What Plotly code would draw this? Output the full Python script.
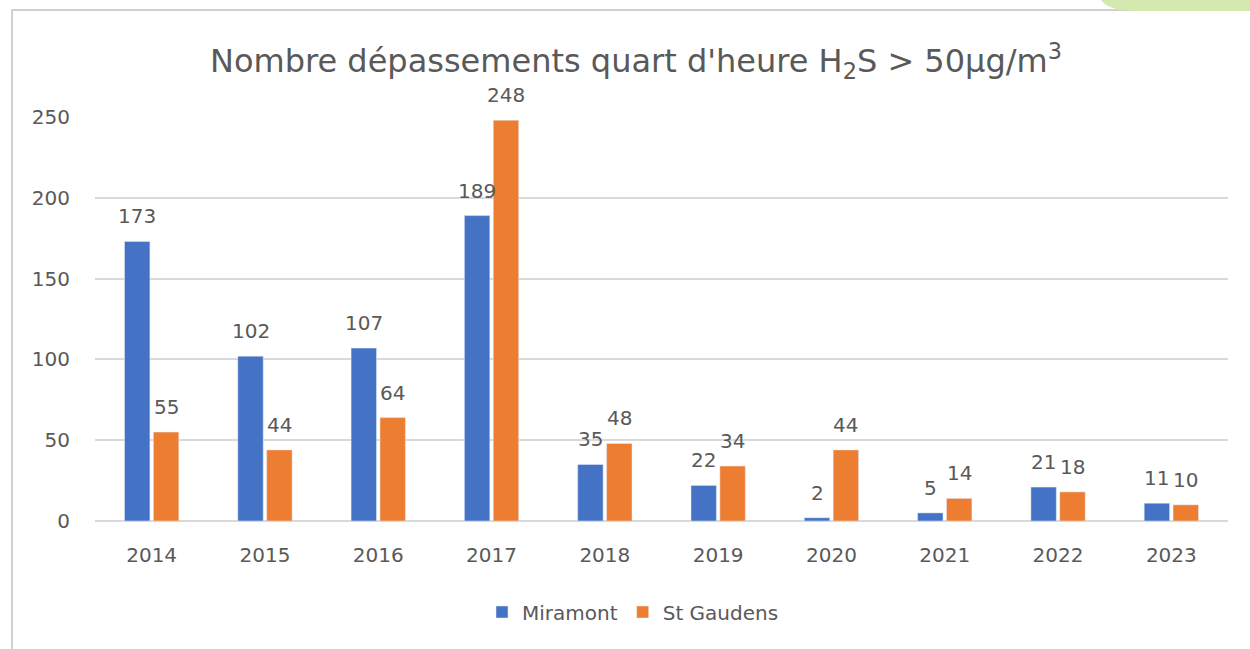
import plotly.graph_objects as go

years = ["2014", "2015", "2016", "2017", "2018", "2019", "2020", "2021", "2022", "2023"]
miramont = [173, 102, 107, 189, 35, 22, 2, 5, 21, 11]
st_gaudens = [55, 44, 64, 248, 48, 34, 44, 14, 18, 10]
y_ticks = [0, 50, 100, 150, 200, 250]

FONT = "DejaVu Sans"
TXT = "#595959"
FS = 20

W, H = 1250, 649
L, R, T, B = 95, 22, 117, 128
pw, ph = W - L - R, H - T - B
BARGAP, GROUPGAP = 0.49, 0.12

def px(x):
    return (x - L) / pw

def py(y):
    return (H - B - y) / ph

fig = go.Figure()
fig.add_trace(go.Bar(x=years, y=miramont, name="Miramont", marker_color="#4472C4"))
fig.add_trace(go.Bar(x=years, y=st_gaudens, name="St Gaudens", marker_color="#ED7D31"))

# data labels placed above each bar (category slot offset computed from bar gaps)
cat_w = pw / len(years)
slot = cat_w * (1 - BARGAP) / 2
annotations = []
for series, sign in ((miramont, -1), (st_gaudens, 1)):
    for i, v in enumerate(series):
        annotations.append(dict(x=i, y=v, xref="x", yref="y", text=str(v), showarrow=False,
                                xanchor="center", yanchor="bottom", xshift=sign * slot / 2,
                                yshift=11, font=dict(size=FS, color=TXT, family=FONT)))

green_path = (f"M {px(1098)},{py(-5)} Q {px(1104)},{py(11)} {px(1135)},{py(11)} "
              f"L {px(1300)},{py(11)} L {px(1300)},{py(-5)} Z")

fig.update_layout(
    width=W, height=H,
    margin=dict(l=L, r=R, t=T, b=B),
    paper_bgcolor="white", plot_bgcolor="white",
    barmode="group", bargap=BARGAP, bargroupgap=GROUPGAP,
    font=dict(family=FONT, color=TXT),
    title=dict(text="Nombre dépassements quart d'heure H<sub>2</sub>S > 50µg/m<sup>3</sup>",
               x=636 / W, xanchor="center", y=1 - 61 / H, yanchor="middle",
               font=dict(size=32, color=TXT, family=FONT)),
    xaxis=dict(type="category", showgrid=False, showline=False, ticks="",
               tickfont=dict(size=FS, color=TXT), ticklabelstandoff=20),
    yaxis=dict(range=[0, 250], tickvals=y_ticks, showgrid=True, gridcolor="#D9D9D9",
               gridwidth=1.5, zeroline=True, zerolinecolor="#D9D9D9", zerolinewidth=1.5,
               tickfont=dict(size=FS, color=TXT), ticks="", ticklabelstandoff=24),
    legend=dict(orientation="h", x=px(633), xanchor="center", y=py(612), yanchor="middle",
                font=dict(size=FS, color=TXT), itemwidth=30, tracegroupgap=0),
    showlegend=True,
    annotations=annotations,
    shapes=[
        dict(type="rect", xref="paper", yref="paper", x0=px(12), x1=px(1300), y0=py(10), y1=py(700),
             line=dict(color="#D0D0D0", width=2), fillcolor="rgba(0,0,0,0)", layer="below"),
        dict(type="path", xref="paper", yref="paper", path=green_path,
             line=dict(width=0), fillcolor="#D3E9B0", layer="above"),
    ],
)

fig.write_html("out.html", config={"displayModeBar": False},
               post_script="document.body.style.margin='0';document.body.style.overflow='hidden';")
